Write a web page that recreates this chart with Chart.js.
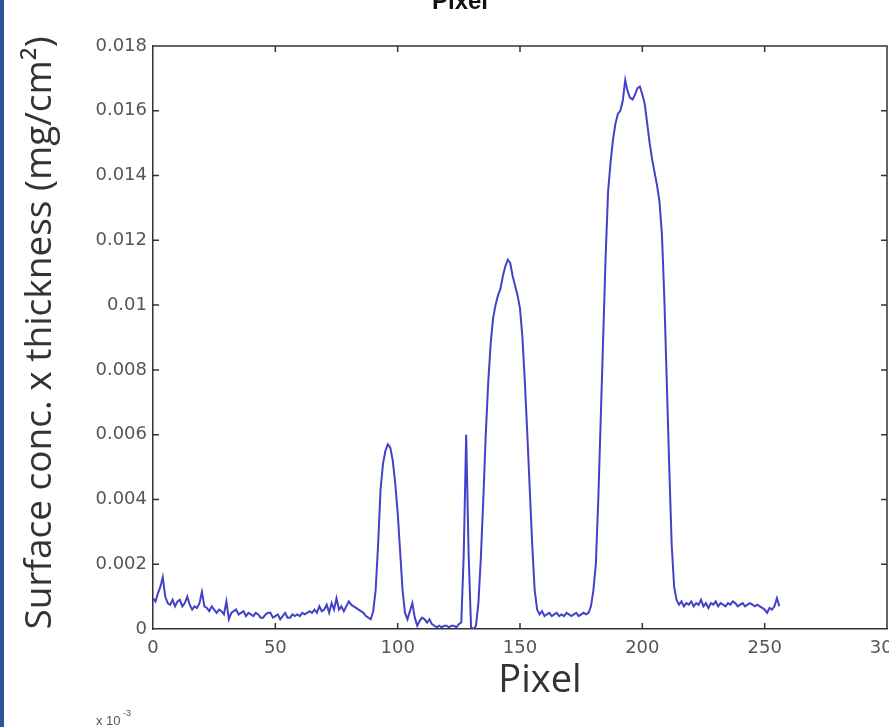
<!DOCTYPE html>
<html>
<head>
<meta charset="utf-8">
<script src="https://cdn.jsdelivr.net/npm/chart.js@4.4.1/dist/chart.umd.min.js"></script>
<style>
  html, body { margin: 0; padding: 0; background: #fff; }
  #wrap { width: 889px; height: 727px; position: relative; }
</style>
</head>
<body>
<div id="wrap"><canvas id="js-profile" width="889" height="727"></canvas></div>
<script>
// pixel index along the profile
var pixels = [];
for (var p = 0; p <= 256; p++) pixels.push(p);

// surface conc. x thickness, in units of 1e-3 mg/cm2
var valuesMilli = [
  0.95, 0.85, 1.1, 1.3, 1.6, 1.0, 0.8, 0.75, 0.9, 0.7,
  0.85, 0.9, 0.7, 0.8, 1.0, 0.75, 0.6, 0.7, 0.65, 0.8,
  1.15, 0.7, 0.65, 0.55, 0.7, 0.6, 0.5, 0.6, 0.55, 0.45,
  0.85, 0.3, 0.5, 0.55, 0.6, 0.45, 0.5, 0.55, 0.4, 0.5,
  0.45, 0.4, 0.5, 0.45, 0.35, 0.35, 0.45, 0.5, 0.5, 0.35,
  0.4, 0.45, 0.3, 0.4, 0.5, 0.35, 0.35, 0.45, 0.4, 0.45,
  0.4, 0.5, 0.45, 0.5, 0.55, 0.5, 0.6, 0.5, 0.7, 0.55,
  0.6, 0.75, 0.5, 0.8, 0.6, 0.95, 0.6, 0.7, 0.55, 0.7,
  0.85, 0.75, 0.7, 0.65, 0.6, 0.55, 0.5, 0.4, 0.35, 0.3,
  0.55, 1.2, 2.6, 4.3, 5.1, 5.5, 5.7, 5.6, 5.2, 4.5,
  3.6, 2.4, 1.2, 0.5, 0.3, 0.55, 0.8, 0.35, 0.1, 0.25,
  0.35, 0.3, 0.2, 0.3, 0.15, 0.1, 0.05, 0.1, 0.05, 0.1,
  0.1, 0.05, 0.1, 0.1, 0.05, 0.15, 0.2, 2.3, 6.0, 2.3,
  0.05, 0.0, 0.1, 0.8, 2.2, 4.0, 6.0, 7.6, 8.8, 9.6,
  10.0, 10.3, 10.5, 10.9, 11.2, 11.4, 11.3, 10.9, 10.6, 10.3,
  9.9, 9.0, 7.6, 6.0, 4.3, 2.6, 1.2, 0.6, 0.45, 0.55,
  0.4, 0.45, 0.5, 0.4, 0.45, 0.5, 0.4, 0.45, 0.4, 0.5,
  0.45, 0.4, 0.45, 0.5, 0.4, 0.45, 0.5, 0.45, 0.5, 0.7,
  1.2, 2.0, 4.0, 6.5, 9.0, 11.5, 13.5, 14.4, 15.1, 15.6,
  15.9, 16.0, 16.3, 16.95, 16.6, 16.4, 16.35, 16.5, 16.7, 16.75,
  16.5, 16.2, 15.6, 15.0, 14.5, 14.1, 13.7, 13.2, 12.2, 10.2,
  7.6, 5.0, 2.6, 1.3, 0.9, 0.75, 0.85, 0.7, 0.8, 0.75,
  0.85, 0.7, 0.8, 0.75, 0.9, 0.7, 0.8, 0.65, 0.8, 0.75,
  0.85, 0.7, 0.8, 0.75, 0.7, 0.8, 0.75, 0.85, 0.8, 0.7,
  0.75, 0.8, 0.7, 0.75, 0.8, 0.75, 0.7, 0.75, 0.7, 0.65,
  0.6, 0.5, 0.65, 0.6, 0.7, 0.95, 0.7
];

var xTicks = [0, 50, 100, 150, 200, 250, 300];
var yTicks = [0, 0.002, 0.004, 0.006, 0.008, 0.01, 0.012, 0.014, 0.016, 0.018];

var points = pixels.map(function (px, i) {
  return { x: px, y: valuesMilli[i] / 1000 };
});

var tickFont = { family: '"DejaVu Sans", sans-serif', size: 18 };

// matlab-ish frame: box on all four sides, ticks pointing inward, plus texts
var matlabFrame = {
  id: 'matlabFrame',
  beforeDraw: function (chart) {
    var c = chart.ctx;
    c.save();
    c.fillStyle = '#2f5597';
    c.fillRect(0, 0, 4, chart.height);
    c.restore();
  },
  afterDraw: function (chart) {
    var c = chart.ctx;
    var a = chart.chartArea;
    var xs = chart.scales.x, ys = chart.scales.y;
    var len = 6;
    c.save();
    c.strokeStyle = '#333';
    c.lineWidth = 1.5;
    c.beginPath();
    c.moveTo(a.left, a.top); c.lineTo(a.right, a.top); c.lineTo(a.right, a.bottom);
    xTicks.forEach(function (t) {
      var px = xs.getPixelForValue(t);
      if (t === 0 || t === 300) return;
      c.moveTo(px, a.bottom); c.lineTo(px, a.bottom - len);
      c.moveTo(px, a.top); c.lineTo(px, a.top + len);
    });
    yTicks.forEach(function (t) {
      var py = ys.getPixelForValue(t);
      if (t === 0 || t === 0.018) return;
      c.moveTo(a.left, py); c.lineTo(a.left + len, py);
      c.moveTo(a.right, py); c.lineTo(a.right - len, py);
    });
    c.stroke();

    // y title
    c.fillStyle = '#333';
    c.save();
    c.translate(40, 333);
    c.rotate(-Math.PI / 2);
    c.font = '37px "Open Sans", sans-serif';
    c.textAlign = 'center';
    c.textBaseline = 'middle';
    c.fillText('Surface conc. x thickness (mg/cm\u00B2)', 0, 0);
    c.restore();

    // x title
    c.font = '38px "Open Sans", sans-serif';
    c.textAlign = 'center';
    c.textBaseline = 'middle';
    c.fillText('Pixel', 540, 681);

    // clipped title at top
    c.font = 'bold 24px "Liberation Sans", sans-serif';
    c.fillStyle = '#111';
    c.textBaseline = 'alphabetic';
    c.fillText('Pixel', 460, 9);

    // exponent note
    c.fillStyle = '#555';
    c.font = '13px "Liberation Sans", sans-serif';
    c.textAlign = 'left';
    c.fillText('x 10', 96, 725);
    c.font = '9px "Liberation Sans", sans-serif';
    c.fillText('-3', 123, 716);
    c.restore();
  }
};

var ctx = document.getElementById('js-profile');
var profileChart = new Chart(ctx, {
  type: 'line',
  data: {
    datasets: [{
      label: 'profile',
      data: points,
      borderColor: '#4242c8',
      borderWidth: 2,
      pointRadius: 0,
      tension: 0,
      fill: false
    }]
  },
  options: {
    responsive: false,
    animation: false,
    layout: { autoPadding: false, padding: { top: 46, right: 2, left: 0, bottom: 0 } },
    plugins: { legend: { display: false }, tooltip: { enabled: false } },
    scales: {
      x: {
        type: 'linear',
        min: 0, max: 300,
        afterFit: function (s) {
          s.height = 98;
          s.paddingLeft = 0; s.paddingRight = 0;
        },
        afterBuildTicks: function (s) { s.ticks = xTicks.map(function (v) { return { value: v }; }); },
        grid: { display: true, drawOnChartArea: false, drawTicks: false },
        border: { display: true, color: '#333', width: 1.5 },
        ticks: { color: '#555', font: tickFont, padding: 9, maxRotation: 0 }
      },
      y: {
        type: 'linear',
        min: 0, max: 0.018,
        afterFit: function (s) {
          s.width = 153;
          s.paddingTop = 0; s.paddingBottom = 0;
        },
        afterBuildTicks: function (s) { s.ticks = yTicks.map(function (v) { return { value: v }; }); },
        grid: { display: true, drawOnChartArea: false, drawTicks: false },
        border: { display: true, color: '#333', width: 1.5 },
        ticks: {
          color: '#555', font: tickFont, padding: 6,
          callback: function (v) { return String(+v.toFixed(3)); }
        }
      }
    }
  },
  plugins: [matlabFrame]
});
</script>
</body>
</html>
